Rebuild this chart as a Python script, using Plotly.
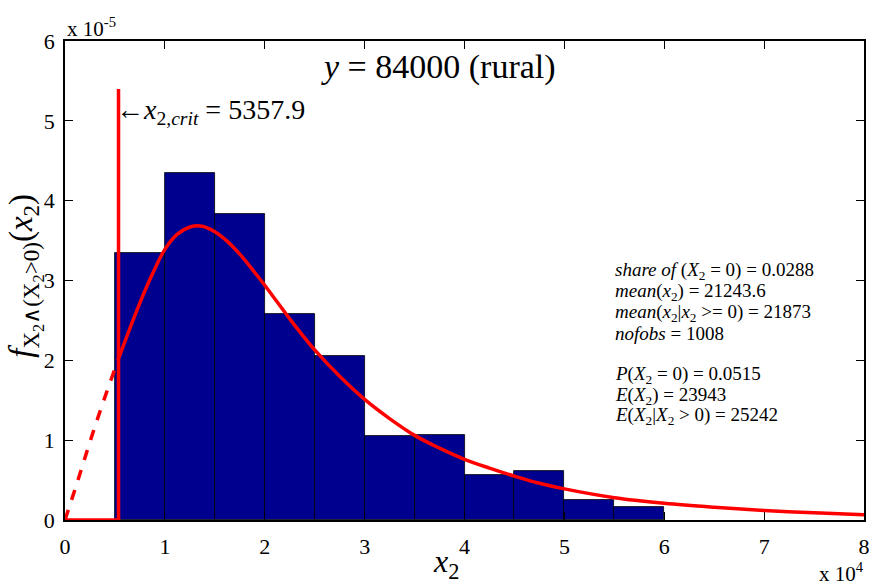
import plotly.graph_objects as go

# ---- data ----
bin_left = [5000, 10000, 15000, 20000, 25000, 30000, 35000, 40000, 45000, 50000, 55000]
bin_width = 5000
bar_height_e5 = [3.35, 4.35, 3.83, 2.58, 2.05, 1.05, 1.07, 0.56, 0.62, 0.25, 0.165]

x_crit = 5357.9
crit_top_e5 = 5.40

curve_dash_x = [0, 1250, 2500, 3750, 5357.9]
curve_dash_y = [0, 0.48, 0.98, 1.45, 2.02]

curve_x = [5357.9, 6250, 7500, 8750, 10000, 11250, 12500, 13750, 15000, 16250, 17500,
           18750, 20000, 21250, 22500, 23750, 25000, 27500, 30000, 32500, 35000,
           37500, 40000, 42500, 45000, 47500, 50000, 55000, 60000, 65000, 70000,
           75000, 80000]
curve_y = [2.02, 2.32, 2.72, 3.08, 3.39, 3.58, 3.67, 3.68, 3.61, 3.49, 3.33,
           3.14, 2.94, 2.73, 2.52, 2.32, 2.13, 1.80, 1.51, 1.27, 1.06,
           0.90, 0.76, 0.65, 0.55, 0.46, 0.39, 0.28, 0.21, 0.16, 0.12,
           0.09, 0.065]

x_tickvals = [0, 10000, 20000, 30000, 40000, 50000, 60000, 70000, 80000]
x_ticktext = ["0", "1", "2", "3", "4", "5", "6", "7", "8"]
y_tickvals = [0, 1, 2, 3, 4, 5, 6]
y_ticktext = ["0", "1", "2", "3", "4", "5", "6"]

stats_lines = [
    "<i>share of</i> (<i>X</i><sub>2</sub> = 0) = 0.0288",
    "<i>mean</i>(<i>x</i><sub>2</sub>) = 21243.6",
    "<i>mean</i>(<i>x</i><sub>2</sub>|<i>x</i><sub>2</sub> &gt;= 0) = 21873",
    "<i>nofobs</i> = 1008",
    "",
    "<i>P</i>(<i>X</i><sub>2</sub> = 0) = 0.0515",
    "<i>E</i>(<i>X</i><sub>2</sub>) = 23943",
    "<i>E</i>(<i>X</i><sub>2</sub>|<i>X</i><sub>2</sub> &gt; 0) = 25242",
]

FONT = "Liberation Serif"
RED = "#ff0000"

# plot-area geometry (pixels) used to place free text
L, R, T, B = 65, 864, 41, 520.5
W, H = R - L, B - T


def px(xp):
    return (xp - L) / W


def py(yp):
    return (B - yp) / H


fig = go.Figure()

fig.add_trace(go.Bar(
    x=[b + bin_width / 2 for b in bin_left], y=bar_height_e5, width=bin_width,
    marker=dict(color="#00008f", line=dict(color="#000000", width=0.8)),
    showlegend=False, hoverinfo="skip"))

fig.add_trace(go.Scatter(
    x=[0, x_crit, x_crit], y=[0, 0, crit_top_e5], mode="lines",
    line=dict(color=RED, width=3.5), showlegend=False, hoverinfo="skip"))

fig.add_trace(go.Scatter(
    x=curve_dash_x, y=curve_dash_y, mode="lines",
    line=dict(color=RED, width=3.5, dash="dash", shape="spline"),
    showlegend=False, hoverinfo="skip"))

fig.add_trace(go.Scatter(
    x=curve_x, y=curve_y, mode="lines",
    line=dict(color=RED, width=3.5, shape="spline"),
    showlegend=False, hoverinfo="skip"))

axis_common = dict(ticks="inside", ticklen=8, tickwidth=1, tickcolor="black",
                   showline=True, linecolor="black", linewidth=1.5, mirror="ticks",
                   showgrid=False, zeroline=False, automargin=False,
                   ticklabeloverflow="allow",
                   tickfont=dict(size=22, family=FONT, color="black"))

fig.update_layout(
    width=869, height=585,
    margin=dict(l=L, r=869 - R, t=T, b=585 - B),
    plot_bgcolor="white", paper_bgcolor="white",
    font=dict(family=FONT, color="black", size=20),
    bargap=0,
    xaxis=dict(range=[0, 80000], tickvals=x_tickvals, ticktext=x_ticktext,
               ticklabelstandoff=6, **axis_common),
    yaxis=dict(range=[0, 6], tickvals=y_tickvals, ticktext=y_ticktext,
               ticklabelstandoff=4, **axis_common),
)

ann = [
    dict(x=px(438), y=py(67), text="<i>y</i> = 84000 (rural)",
         font=dict(size=34, family=FONT), xanchor="center", yanchor="middle"),
    dict(x=px(114), y=py(112), text="\u2190<i>x</i><sub>2,<i>crit</i></sub> = 5357.9",
         font=dict(size=28, family=FONT), xanchor="left", yanchor="middle"),
    dict(x=px(25), y=py(276), textangle=-90,
         text="<i>f</i><sub>X<sub>2</sub>\u2227(X<sub>2</sub>&gt;0)</sub>(<i>x</i><sub>2</sub>)",
         font=dict(size=33, family=FONT), xanchor="center", yanchor="middle"),
    dict(x=px(446), y=py(564), text="<i>x</i><sub>2</sub>",
         font=dict(size=32, family=FONT), xanchor="center", yanchor="middle"),
    dict(x=px(65), y=py(27), text="x 10<sup>-5</sup>",
         font=dict(size=21, family=FONT), xanchor="left", yanchor="middle"),
    dict(x=px(866), y=py(573), text="x 10<sup>4</sup>",
         font=dict(size=21, family=FONT), xanchor="right", yanchor="middle"),
]
rows_px = [271, 292, 313, 334, None, 375, 396, 416]
for line, row in zip(stats_lines, rows_px):
    if not line:
        continue
    ann.append(dict(x=px(613), y=py(row), text=line,
                    font=dict(size=19, family=FONT), xanchor="left", yanchor="middle"))

for a in ann:
    a.update(xref="paper", yref="paper", showarrow=False)

fig.update_layout(annotations=ann)
fig.write_html("out.html", config={"displayModeBar": False},
               post_script="document.body.style.margin='0';")
